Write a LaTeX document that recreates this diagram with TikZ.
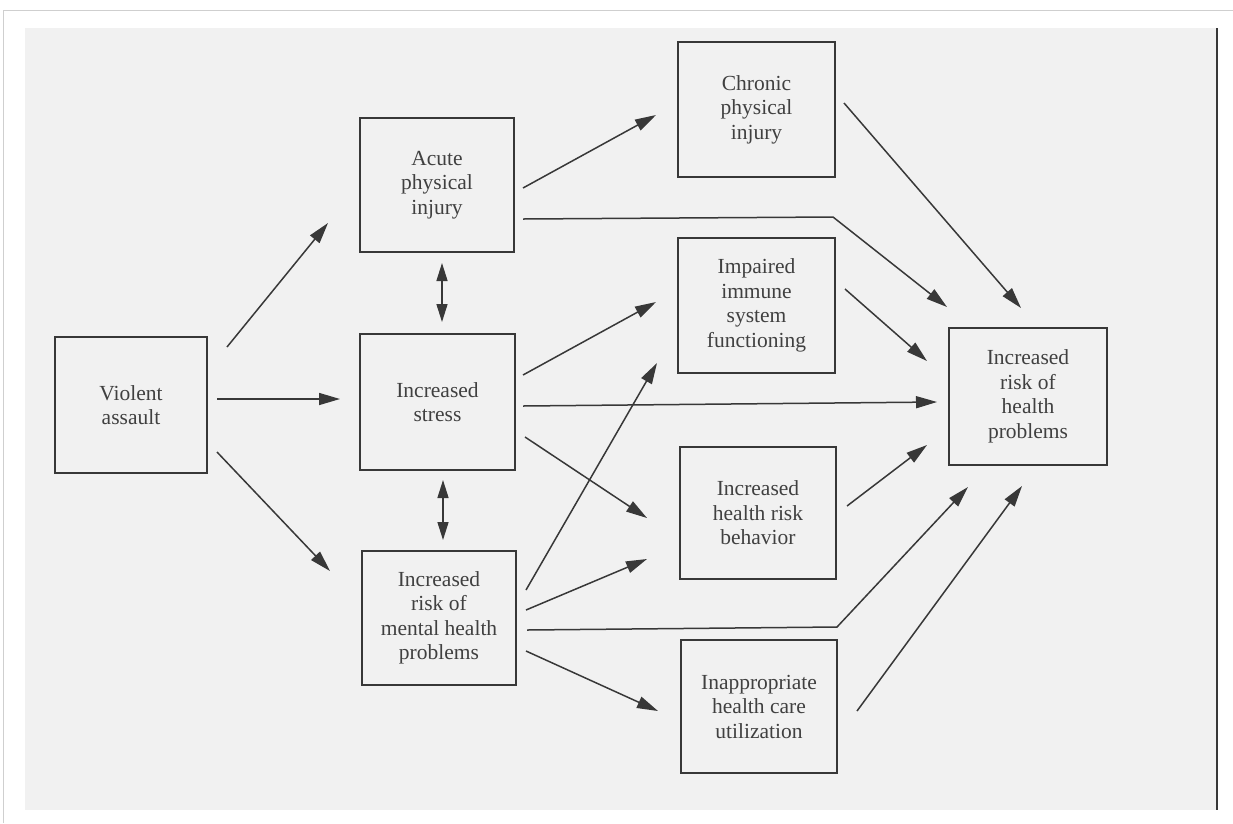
\documentclass[tikz,border=0pt]{standalone}
\usepackage{fontspec}
\setmainfont{Liberation Serif}
\usetikzlibrary{arrows.meta}
\definecolor{ink}{HTML}{383838}
\definecolor{txt}{HTML}{404040}
\definecolor{paper}{HTML}{F1F1F1}
\definecolor{edge}{HTML}{CFCFCF}
\begin{document}
\begin{tikzpicture}[x=1pt,y=-1pt,
  box/.style={draw=ink,line width=1.3pt,fill=none,text=txt,align=center,inner sep=0pt,
    font=\fontsize{21.5}{24.5}\selectfont},
  conn/.style={draw=ink,line width=1.5pt,-{Triangle[length=21pt,width=12pt]}},
  dconn/.style={draw=ink,line width=1.5pt,{Triangle[length=18pt,width=11pt]}-{Triangle[length=18pt,width=11pt]}}]
\useasboundingbox (0,0) rectangle (1233,823);
\fill[white] (0,0) rectangle (1233,823);
\fill[paper] (25,28) rectangle (1217,810);
\draw[edge,line width=1pt] (3,823) -- (3,10) -- (1233,10);
\draw[ink,line width=1.4pt] (1217,28) -- (1217,810);

\node[box,minimum width=152pt,minimum height=136pt] (va) at (131,405) {Violent\\assault};
\node[box,minimum width=154pt,minimum height=134pt] (acute) at (437,185) {Acute\\physical\\injury};
\node[box,minimum width=155pt,minimum height=136pt] (stress) at (437.5,402) {Increased\\stress};
\node[box,minimum width=154pt,minimum height=134pt] (mental) at (439,618) {Increased\\risk of\\mental health\\problems};
\node[box,minimum width=157pt,minimum height=135pt] (chronic) at (756.5,109.5) {Chronic\\physical\\injury};
\node[box,minimum width=157pt,minimum height=135pt] (immune) at (756.5,305.5) {Impaired\\immune\\system\\functioning};
\node[box,minimum width=156pt,minimum height=132pt] (behav) at (758,513) {Increased\\health risk\\behavior};
\node[box,minimum width=156pt,minimum height=133pt] (inapp) at (759,706.5) {Inappropriate\\health care\\utilization};
\node[box,minimum width=158pt,minimum height=137pt] (target) at (1028,396.5) {Increased\\risk of\\health\\problems};

% connector end points
\coordinate (va1) at (227,347);   \coordinate (acuteIn) at (328,223);
\coordinate (va2) at (217,399);   \coordinate (stressIn) at (340,399);
\coordinate (va3) at (217,452);   \coordinate (mentalIn) at (330,571);
\coordinate (as1) at (442,263);   \coordinate (as2) at (442,322);
\coordinate (sm1) at (443,480);   \coordinate (sm2) at (443,540);
\coordinate (ac1) at (523,188);   \coordinate (chronicIn) at (656,115);
\coordinate (ac2) at (523,219);   \coordinate (bendA) at (833,217);   \coordinate (tA) at (947,307);
\coordinate (st1) at (523,375);   \coordinate (immuneIn1) at (656,302);
\coordinate (st2) at (523,406);   \coordinate (tS) at (937,402);
\coordinate (st3) at (525,437);   \coordinate (behavIn1) at (647,518);
\coordinate (me1) at (526,590);   \coordinate (immuneIn2) at (657,363);
\coordinate (me2) at (526,610);   \coordinate (behavIn2) at (647,559);
\coordinate (me3) at (527,630);   \coordinate (bendM) at (837,627);   \coordinate (tM) at (968,487);
\coordinate (me4) at (526,651);   \coordinate (inappIn) at (658,711);
\coordinate (ch1) at (844,103);   \coordinate (tC) at (1021,308);
\coordinate (im1) at (845,289);   \coordinate (tI) at (927,361);
\coordinate (be1) at (847,506);   \coordinate (tB) at (927,445);
\coordinate (in1) at (857,711);   \coordinate (tU) at (1022,486);

\draw[conn] (va1) -- (acuteIn);
\draw[conn] (va2) -- (stressIn);
\draw[conn] (va3) -- (mentalIn);
\draw[dconn] (as1) -- (as2);
\draw[dconn] (sm1) -- (sm2);
\draw[conn] (ac1) -- (chronicIn);
\draw[conn] (ac2) -- (bendA) -- (tA);
\draw[conn] (st1) -- (immuneIn1);
\draw[conn] (st2) -- (tS);
\draw[conn] (st3) -- (behavIn1);
\draw[conn] (me1) -- (immuneIn2);
\draw[conn] (me2) -- (behavIn2);
\draw[conn] (me3) -- (bendM) -- (tM);
\draw[conn] (me4) -- (inappIn);
\draw[conn] (ch1) -- (tC);
\draw[conn] (im1) -- (tI);
\draw[conn] (be1) -- (tB);
\draw[conn] (in1) -- (tU);
\end{tikzpicture}
\end{document}
